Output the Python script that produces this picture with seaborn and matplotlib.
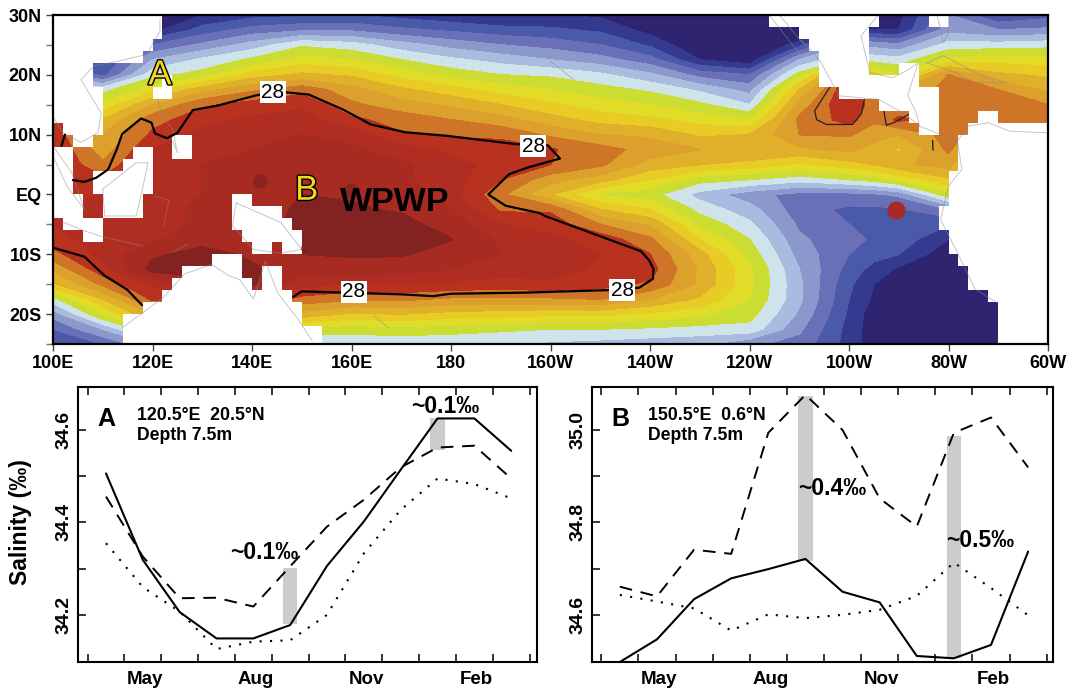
import numpy as np
import pandas as pd
import matplotlib
matplotlib.use("Agg")
import matplotlib.pyplot as plt
import matplotlib.patheffects as pe
from matplotlib.colors import ListedColormap, BoundaryNorm
import seaborn as sns

# Salinity series, Apr..Mar
months = list(range(12))
a_solid = [34.506, 34.319, 34.206, 34.149, 34.149, 34.178, 34.306, 34.402, 34.514, 34.625, 34.625, 34.555]
a_dash = [34.456, 34.326, 34.236, 34.237, 34.218, 34.305, 34.391, 34.449, 34.519, 34.562, 34.566, 34.495]
a_dot = [34.355, 34.26, 34.207, 34.126, 34.142, 34.145, 34.2, 34.333, 34.427, 34.495, 34.483, 34.452]
b_solid = [34.498, 34.547, 34.634, 34.679, 34.699, 34.721, 34.65, 34.627, 34.511, 34.506, 34.535, 34.737]
b_dash = [34.661, 34.64, 34.741, 34.732, 34.994, 35.076, 35.0, 34.852, 34.791, 34.994, 35.027, 34.919]
b_dot = [34.643, 34.629, 34.614, 34.566, 34.601, 34.593, 34.6, 34.611, 34.641, 34.713, 34.658, 34.599]
a_bars = [(5, 34.18, 34.302), (9, 34.557, 34.627)]
b_bars = [(5, 34.717, 35.074), (9, 34.506, 34.986)]
month_labels = ["May", "Aug", "Nov", "Feb"]
month_label_pos = [1, 4, 7, 10]

# Temperature read along each longitude, lat 30N..25S every 2.5 deg
lats = [30 - 2.5 * i for i in range(23)]
lons = list(range(100, 261, 10)) + [265, 270, 280, 290, 300]
t100 = [22, 22, 22.5, 23, 24, 25, 26, 28.3, 28.3, 28.5, 28.5, 28.5, 28.5, 28.5, 28.5, 28.3, 27.8, 27.1, 26.4, 24.8, 23.7, 23, 22.5]
t110 = [22, 22, 22, 22.4, 22.8, 24.8, 25.6, 26.5, 27, 27.2, 27.6, 28.1, 28.5, 28.6, 28.7, 28.7, 28.7, 28.3, 27.6, 26.5, 25.5, 24, 23]
t120 = [21.5, 21.8, 23, 24, 24.8, 25.8, 27, 27.8, 28.1, 28.5, 28.7, 28.8, 28.8, 28.8, 28.8, 28.9, 29.4, 29.7, 28.6, 28.1, 27, 25.5, 24]
t130 = [22, 22.7, 23.6, 24.6, 25.2, 26.8, 27.9, 28.3, 28.7, 28.9, 29, 29, 29, 29.1, 29.1, 29.3, 29.7, 29.8, 29.2, 28, 27, 25, 24]
t140 = [22.3, 23.2, 24.2, 25.1, 26.2, 27.4, 28.2, 28.6, 28.9, 29, 29.2, 29.4, 29.3, 29.2, 29.2, 29.2, 29.4, 29.6, 29.6, 28.5, 27.5, 26, 24.5]
t150 = [22.4, 23.4, 24.9, 25.7, 26.6, 27.8, 28.4, 28.7, 29, 29.2, 29.3, 29.4, 29.5, 29.6, 29.7, 29.6, 29.5, 29.2, 28.7, 27.8, 26.8, 25.3, 24.5]
t160 = [22.5, 23.4, 24.7, 25.5, 26.4, 27.2, 27.6, 28.1, 28.8, 29.1, 29.4, 29.45, 29.45, 29.55, 29.7, 29.8, 29.55, 29.3, 28.4, 27.6, 26.4, 25.2, 24.6]
t170 = [22.3, 23.1, 24.2, 25, 25.8, 26.6, 27.2, 27.8, 28.05, 28.7, 29.1, 29.1, 29.3, 29.45, 29.65, 29.8, 29.55, 29.2, 28.5, 27.6, 26.5, 25.3, 24.6]
t180 = [22.1, 22.9, 23.8, 24.6, 25.3, 26.2, 26.9, 27.5, 27.9, 28.4, 28.6, 28.7, 28.7, 29, 29.3, 29.52, 29.3, 29, 28.4, 27.4, 26.3, 25.2, 24.6]
t190 = [21.9, 22.7, 23.5, 24.3, 25, 25.8, 26.5, 27.2, 27.85, 28.3, 28.4, 28, 27.6, 27.9, 28.5, 28.9, 29, 28.7, 28.3, 27.4, 26.2, 25.1, 24.5]
t200 = [22, 22.6, 23.3, 24, 24.9, 25.5, 26.1, 26.7, 27.4, 28.05, 28, 27.2, 26.5, 27.9, 28.3, 28.6, 28.8, 28.7, 28.4, 27.4, 26.1, 25, 24.4]
t210 = [21.9, 22.4, 23, 23.7, 24.6, 25.2, 25.7, 26.3, 27, 27.7, 27.6, 26.7, 25.4, 26.5, 27.5, 28.3, 28.5, 28.4, 28.2, 27.5, 26.1, 25, 24.3]
t220 = [21.5, 21.8, 22.4, 23.2, 24.1, 24.9, 25.5, 26.1, 26.9, 27.3, 26.8, 26, 25.2, 26, 26.9, 27.6, 28, 28.2, 27.9, 27, 25.9, 24.9, 24.2]
t230 = [21, 21, 21.5, 22, 23.3, 24.4, 25.1, 25.8, 26.4, 27, 26.5, 25.2, 24.3, 24.8, 25.4, 26, 26.7, 26.9, 26.9, 26.4, 25.6, 24.8, 24.1]
t240 = [21, 21, 21, 21.6, 23, 23.8, 24.5, 25.5, 26.5, 27, 26.3, 25, 23.7, 24.2, 24.6, 25, 25.3, 25.6, 25.6, 25.5, 25.2, 24.8, 23.6]
t250 = [21, 21, 22.3, 24, 25.2, 26.5, 27.2, 27.6, 27.5, 26.9, 25.9, 24.7, 23.3, 23.2, 23.4, 23.6, 23.8, 24, 24.1, 24.1, 23.9, 23.6, 23.3]
t260 = [21, 22, 24, 25, 28, 28.5, 28.5, 28.2, 27.55, 27.1, 26.3, 25, 23.3, 22.9, 23, 23.1, 23, 22.8, 22.6, 22.5, 22.4, 22.3, 22.3]
t265 = [21.4, 22, 23.8, 24.8, 26, 27.2, 27.7, 27.6, 27.2, 26.8, 26.5, 25.2, 23.4, 22.9, 23, 22.95, 22.7, 22.3, 22, 21.9, 21.7, 21.7, 21.7]
t270 = [21.8, 22, 23.6, 24.7, 25.5, 27, 27.6, 28.1, 27, 26.4, 26.9, 25.6, 23.6, 22.9, 23, 22.8, 22.5, 21.9, 21.5, 21.3, 21, 21, 21]
t280 = [23.5, 23.8, 24.7, 25.6, 27.5, 27.7, 27.7, 27.7, 27.7, 27.6, 27.2, 26.4, 25.3, 23.5, 22.5, 22, 21.6, 21.3, 21, 21, 21, 21, 21]
t290 = [22.5, 23.5, 24.7, 25.8, 26.6, 27.5, 27.7, 27.6, 27, 26, 25, 24, 23, 22, 21, 21, 21, 21, 21, 21, 21, 21, 21]
t300 = [22.8, 23.6, 24.8, 25.7, 26.4, 26.9, 27.5, 27.7, 27.7, 26, 25, 24, 23, 22, 21, 21, 21, 21, 21, 21, 21, 21, 21]
sst_cols = [t100, t110, t120, t130, t140, t150, t160, t170, t180, t190, t200,
            t210, t220, t230, t240, t250, t260, t265, t270, t280, t290, t300]

sst_levels = [20, 22, 22.5, 23, 23.5, 24, 24.5, 25, 25.5, 26, 26.5, 27, 27.5, 28, 28.5, 29, 29.5, 31]
sst_colors = ["#2f2470", "#333a90", "#4a59a8", "#6a70b8", "#8a98cc", "#a9bcdf", "#cfe3ea",
              "#cbdd33", "#e0dc28", "#e8cc25", "#e0b02a", "#dca02c", "#cf7527",
              "#b9321f", "#b02d21", "#a82b22", "#832321"]

# land cells: lat top, lat bottom, lon from, lon to (2 deg grid)
land = [
    (30, 26, 100, 122), (26, 24, 100, 120), (24, 22, 100, 118), (22, 18, 100, 108),
    (18, 12, 100, 110), (12, 10, 102, 110), (10, 8, 104, 108), (8, 0, 100, 104),
    (0, -4, 100, 106), (-4, -6, 102, 110), (-6, -8, 106, 110),
    (20, 18, 122, 124), (18, 16, 120, 124), (10, 6, 124, 128),
    (8, 6, 116, 120), (6, 4, 114, 120), (4, 0, 108, 120), (0, -4, 110, 118),
    (0, -2, 136, 140), (-2, -4, 136, 146), (-4, -6, 136, 148), (-6, -8, 138, 150),
    (-8, -10, 140, 144), (-8, -10, 146, 150),
    (-10, -12, 132, 138), (-12, -14, 126, 138), (-12, -16, 142, 146), (-14, -16, 124, 140),
    (-16, -18, 122, 148), (-18, -20, 118, 150), (-20, -22, 114, 150), (-22, -26, 114, 154),
    (30, 28, 244, 266), (30, 28, 276, 280), (28, 26, 250, 264), (26, 24, 252, 264),
    (24, 20, 254, 264), (22, 20, 270, 274), (20, 18, 254, 274), (18, 16, 258, 278),
    (16, 14, 266, 278), (14, 12, 272, 278), (12, 10, 274, 278),
    (14, 12, 286, 290), (12, 10, 284, 300), (10, 4, 282, 300), (4, 0, 280, 300),
    (0, -2, 280, 300), (-2, -6, 278, 300), (-6, -10, 280, 300), (-10, -12, 282, 300),
    (-12, -16, 284, 300), (-16, -18, 288, 300), (-18, -26, 290, 300),
]

# 28 degree line
c28_main_lon = [104, 106.3, 108.7, 111.1, 112.8, 113.9, 117.7, 119.8, 120.5, 122.9, 125, 128.1, 133.3, 141, 146.5, 151.4, 158.3, 163.9, 170.8, 179.2, 193.1, 199.5, 201.9, 195.4, 191.7, 187.5, 191, 197.8, 198.9, 218.2, 219.9, 220.7, 220.6, 217.8, 211.3, 195.4, 179.9, 176.4, 170.1, 150, 148.3]
c28_main_lat = [2.4, 2.1, 2.8, 4.2, 7.5, 10.1, 12.7, 12, 10.2, 9.4, 10.3, 14.1, 14.9, 16.6, 17.1, 16.7, 14.2, 11.7, 10.4, 9.8, 8.4, 8.2, 6, 4.5, 3.4, 0, -1.9, -3.1, -3.6, -9.5, -11.1, -12.5, -14.1, -15.6, -16, -16.4, -16.6, -17, -16.7, -16.2, -17.1]
c28_sw_lon = [100, 106.3, 110.4, 114.9, 117.9]
c28_sw_lat = [-8.9, -10.4, -13.6, -15.9, -18.5]
c28_w_lon = [101.7, 102.4]
c28_w_lat = [8.1, 10]
c28_p1_lon = [256.2, 253.1, 253.5, 255.5, 260.7, 262.5, 263.1, 263.1]
c28_p1_lat = [18, 14, 12.5, 11.7, 11.7, 13.5, 15.9, 17]
c28_p2_lon = [267, 267.5, 269, 272]
c28_p2_lat = [14, 11.6, 12, 13.4]
c28_p3_lon = [276.8, 276.9]
c28_p3_lat = [9, 7.4]
label_lon = [144.2, 196.5, 160.5, 214.4]
label_lat = [17.1, 8.1, -16.3, -16]

# dots
dot_lon = [141.7, 151.2, 159.8]
dot_lat = [2.3, -9, 0.7]

# coast lines
coasts = [
    ([121.5, 121.5, 118.8, 113.2, 108.3, 105.6, 109.7, 109, 105.6, 102, 100], [29.3, 27.3, 23.4, 22.3, 21.5, 19.2, 13.6, 10.3, 8.7, 10.3, 13]),
    ([100, 103.8, 106.3, 102.8, 100], [8.1, 3.6, -2.5, 1.4, 6.4]),
    ([102, 106, 109.7, 118], [-4.6, -6, -7, -8.6]),
    ([110, 116.7, 119.1, 117.7, 116.7, 110.4, 110], [0.9, 5.3, 5.3, -0.2, -3.6, -3.6, 0.9]),
    ([136.8, 145.8, 150, 145.8, 140.3, 136.1, 136.8], [-1.4, -4.7, -9.2, -9.8, -9.2, -5.3, -1.4]),
    ([113.9, 122.2, 126.4, 131.9, 135.4, 137.5, 140.3, 142.7, 145.1, 149.3, 152.1], [-22.3, -17.2, -13.3, -11.7, -13.6, -14.2, -17.5, -11.1, -16.4, -20.9, -24.5]),
    ([121, 122, 124, 125, 124], [16, 13, 11, 7, 9]),
    ([120.5, 123.3, 122.2], [-0.3, -1, -5.3]),
    ([124, 127], [-9.7, -8.3]),
    ([164.6, 167.4], [-20.3, -22.3]),
    ([199.9, 204.7], [22.3, 19.2]),
    ([244, 250.3], [30, 23.2]),
    ([246, 251], [30, 25]),
    ([250.3, 254.2, 258, 265.9, 271.4, 274.2, 281.8, 282.7, 280, 278.4, 281.8, 285.3, 289.8], [26, 22.3, 16.5, 15.9, 13.4, 11.4, 8.9, 4.2, 1.4, -4.2, -9.7, -15.8, -18.1]),
    ([265.9, 262.4, 264.2, 268.7, 271.4, 273.9, 271.8, 273.5, 274.2], [30, 26.5, 20.4, 19.5, 20.6, 22, 16.6, 13.7, 11.4]),
    ([277.7, 279, 280, 280], [30, 25.4, 27, 30]),
    ([275.6, 279, 285.3, 291.5, 285, 281, 275.6], [22, 23.2, 20.4, 18.7, 18.8, 20.5, 22]),
    ([281.8, 283.9, 288, 292.2, 300], [8.9, 11.4, 12, 10.6, 10.3]),
]

sns.set_style("white")
plt.rcParams["font.family"] = ["Liberation Sans", "DejaVu Sans"]
plt.rcParams["text.color"] = "black"
plt.rcParams["axes.labelcolor"] = "black"
plt.rcParams["xtick.color"] = "black"
plt.rcParams["ytick.color"] = "black"

W, H = 1069, 690
fig = plt.figure(figsize=(W / 100, H / 100), dpi=100)


def px_axes(left, top, right, bottom):
    return fig.add_axes([left / W, 1 - bottom / H, (right - left) / W, (bottom - top) / H])


# Map
ax = px_axes(53, 15, 1048, 344)
sst = np.array(sst_cols).T
cmap = ListedColormap(sst_colors)
norm = BoundaryNorm(sst_levels, cmap.N)
cs = ax.contourf(lons, lats, sst, levels=sst_levels, cmap=cmap, norm=norm)
cs.set_edgecolor("face")
cs.set_linewidth(0.4)

lon_edges = np.arange(100, 302, 2)
lat_edges = np.arange(-26, 32, 2)
land_grid = np.zeros((len(lat_edges) - 1, len(lon_edges) - 1))
for top, bottom, lon0, lon1 in land:
    rows = np.where((lat_edges[:-1] >= bottom) & (lat_edges[:-1] < top))[0]
    cols = np.where((lon_edges[:-1] >= lon0) & (lon_edges[:-1] < lon1))[0]
    land_grid[np.ix_(rows, cols)] = 1

# patches sit under the land cells
ax.plot(c28_p1_lon, c28_p1_lat, color="#222222", lw=0.9, zorder=1.5)
ax.plot(c28_p2_lon, c28_p2_lat, color="#222222", lw=0.9, zorder=1.5)
ax.plot(c28_p3_lon, c28_p3_lat, color="#222222", lw=1.0, zorder=1.5)
ax.pcolormesh(lon_edges, lat_edges, np.ma.masked_equal(land_grid, 0),
              cmap=ListedColormap(["white"]), zorder=2)

for cx, cy in coasts:
    ax.plot(cx, cy, color="#8c8c8c", lw=0.7, alpha=0.5, zorder=3)

ax.scatter(dot_lon, dot_lat, s=110, color="#832321", alpha=0.8, lw=0, zorder=3)
ax.scatter([269.4], [-2.6], s=170, color="#a62b28", lw=0, zorder=3)

for lx, ly in [(c28_main_lon, c28_main_lat), (c28_sw_lon, c28_sw_lat), (c28_w_lon, c28_w_lat)]:
    ax.plot(lx, ly, color="black", lw=1.6, zorder=4, solid_joinstyle="round")
for lx, ly in zip(label_lon, label_lat):
    ax.text(lx, ly, "28", fontsize=15, ha="center", va="center", zorder=5,
            bbox=dict(fc="white", ec="none", pad=1.2))

outline = [pe.withStroke(linewidth=2, foreground="black")]
for name, lx, ly in [("A", 121.5, 20), ("B", 151, 0.7)]:
    ax.text(lx, ly, name, fontsize=25, color="#f2d81f", ha="center", va="center",
            path_effects=outline, zorder=5)
ax.text(168.7, -1.3, "WPWP", fontsize=24.5, fontweight="bold", color="black",
        ha="center", va="center", zorder=5)

ax.set_xlim(100, 300)
ax.set_ylim(-25, 30)
ax.set_xticks(list(range(100, 301, 20)))
ax.set_xticklabels(["100E", "120E", "140E", "160E", "180", "160W", "140W", "120W", "100W", "80W", "60W"],
                   fontsize=13, fontweight="bold")
ax.set_yticks([30, 20, 10, 0, -10, -20])
ax.set_yticklabels(["30N", "20N", "10N", "EQ", "10S", "20S"], fontsize=13, fontweight="bold")
ax.set_yticks([25, 15, 5, -5, -15, -25], minor=True)
ax.tick_params(axis="both", which="major", direction="out", length=5, width=1, color="#444444", pad=3, left=True, bottom=True)
ax.tick_params(axis="y", which="minor", direction="out", length=5, width=1, color="#777777", left=True)
for s in ax.spines.values():
    s.set_linewidth(1.6)
    s.set_color("black")
    s.set_zorder(6)


# Salinity panels
def salinity_panel(box, solid, dash, dot, bars, ylim, yticks, xlim, letter, place, depth, text_x):
    axp = px_axes(*box)
    df = pd.DataFrame({"month": months, "solid": solid, "dash": dash, "dot": dot})
    for m, lo, hi in bars:
        axp.bar(m, hi - lo, bottom=lo, width=0.39, color="#cccccc", lw=0, zorder=1)
    sns.lineplot(data=df, x="month", y="solid", color="black", lw=1.5, ax=axp, zorder=3)
    sns.lineplot(data=df, x="month", y="dash", color="black", lw=1.4, linestyle=(0, (6.5, 4.5)), ax=axp, zorder=3)
    sns.lineplot(data=df, x="month", y="dot", color="black", lw=1.5, linestyle=(0, (1, 4)), ax=axp, zorder=3)
    axp.set_xlim(*xlim)
    axp.set_ylim(*ylim)
    axp.set_xlabel("")
    axp.set_ylabel("")
    axp.set_xticks(np.arange(13) - 0.5)
    axp.set_xticklabels([])
    axp.tick_params(axis="x", which="major", direction="in", length=6, width=1.1, top=True, bottom=True, color="black")
    axp.set_yticks(yticks)
    axp.set_yticklabels([f"{v:.1f}" if i % 2 == 0 else "" for i, v in enumerate(yticks)],
                        rotation=90, va="center", fontsize=14, fontweight="bold")
    axp.tick_params(axis="y", which="major", direction="in", length=6, width=1.1, left=True, color="black", pad=4)
    for m, name in zip(month_label_pos, month_labels):
        axp.text(m + 0.06, -0.065, name, transform=axp.get_xaxis_transform(), ha="center", va="center",
                 fontsize=13.5, fontweight="bold")
    for s in axp.spines.values():
        s.set_linewidth(1.5)
        s.set_color("black")
    axp.text(0.042, 0.885, letter, transform=axp.transAxes, fontsize=18, fontweight="bold", ha="left", va="center")
    axp.text(text_x, 0.895, place, transform=axp.transAxes, fontsize=12.8, fontweight="bold", ha="left", va="center")
    axp.text(text_x, 0.825, depth, transform=axp.transAxes, fontsize=12.7, fontweight="bold", ha="left", va="center")
    return axp


ax_a = salinity_panel((78, 387, 537, 662), a_solid, a_dash, a_dot, a_bars, (34.098, 34.693),
                      [34.2, 34.3, 34.4, 34.5, 34.6], (-0.76, 11.7), "A", "120.5°E  20.5°N", "Depth 7.5m", 0.128)
ax_b = salinity_panel((592, 387, 1053, 662), b_solid, b_dash, b_dot, b_bars, (34.498, 35.093),
                      [34.6, 34.7, 34.8, 34.9, 35.0], (-0.75, 11.67), "B", "150.5°E  0.6°N", "Depth 7.5m", 0.122)
ax_a.set_ylabel("Salinity (‰)", fontsize=16.5, fontweight="bold")
ax_a.yaxis.set_label_coords(-0.1, 0.51)

for axp, lx, ly, txt in [(ax_a, 4.3, 34.335, "~0.1‰"), (ax_a, 9.2, 34.65, "~0.1‰"),
                         (ax_b, 5.73, 34.873, "~0.4‰"), (ax_b, 9.7, 34.76, "~0.5‰")]:
    axp.text(lx, ly, txt, fontsize=16.5, fontweight="bold", ha="center", va="center", zorder=4)

fig.savefig("out.png", dpi=100)
